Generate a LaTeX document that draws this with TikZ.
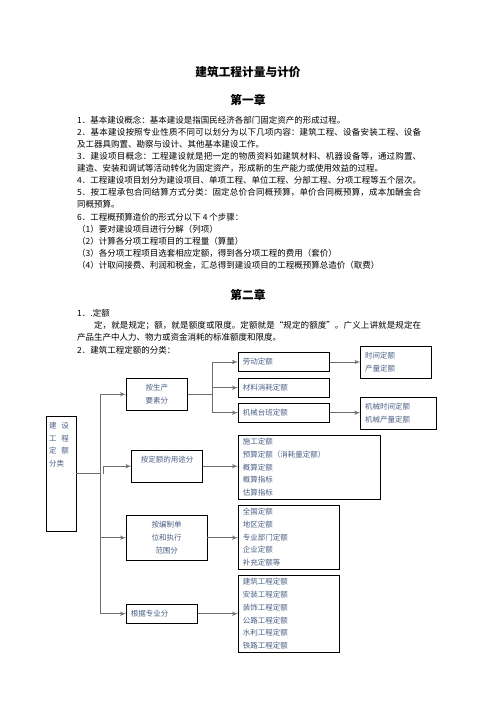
\documentclass[tikz,border=0pt]{standalone}
\usepackage{fontspec}
\setmainfont{Noto Sans CJK SC}
\XeTeXlinebreaklocale "zh"
\XeTeXlinebreakskip = 0pt plus 1pt minus 0.2pt
\usetikzlibrary{arrows}
\definecolor{lblue}{HTML}{4A5F85}
\definecolor{lgray}{HTML}{6E6E6E}
\newcommand{\bodyfont}{\fontsize{8.5}{12.1}\selectfont}
\newcommand{\boxfont}{\fontsize{7.5}{12.8}\selectfont}
\tikzstyle{para} = [anchor=north west, inner sep=0pt, text width=344pt,
    align=justify, font=\bodyfont]
\tikzstyle{heading} = [font=\fontsize{11.7}{14}\selectfont\bfseries, inner sep=0pt]
\tikzstyle{block} = [rectangle, draw, line width=0.7pt, inner sep=0pt,
    text=lblue, font=\boxfont, align=center]
\tikzstyle{list} = [block, align=left, inner xsep=4.5pt]
\tikzstyle{line} = [draw, lgray, line width=1pt, -latex']
\tikzstyle{stem} = [draw, lgray, line width=1pt]

\begin{document}
\begin{tikzpicture}[x=1pt, y=-1pt]
        \useasboundingbox[fill=white] (0,0) rectangle (496,702);
        % Page text
        \node [heading] (title) at (248,72) {建筑工程计量与计价};
        \node [heading] (ch1) at (248,100) {第一章};
        \node [para] (body1) at (77,115.8) {1．基本建设概念：基本建设是指国民经济各部门固定资产的形成过程。\par
            2．基本建设按照专业性质不同可以划分为以下几项内容：建筑工程、设备安装工程、设备\linebreak 及工器具购置、勘察与设计、其他基本建设工作。\par
            3．建设项目概念：工程建设就是把一定的物质资料如建筑材料、机器设备等，通过购置、\linebreak 建造、安装和调试等活动转化为固定资产，形成新的生产能力或使用效益的过程。\par
            4．工程建设项目划分为建设项目、单项工程、单位工程、分部工程、分项工程等五个层次。\par
            5．按工程承包合同结算方式分类：固定总价合同概预算，单价合同概预算，成本加酬金合\linebreak 同概预算。\par
            6．工程概预算造价的形式分以下 4 个步骤：\par
            （1）要对建设项目进行分解（列项）\par
            （2）计算各分项工程项目的工程量（算量）\par
            （3）各分项工程项目选套相应定额，得到各分项工程的费用（套价）\par
            （4）计取间接费、利润和税金，汇总得到建设项目的工程概预算总造价（取费）};
        \node [heading] (ch2) at (248,295) {第二章};
        \node [para] (body2) at (77,309.3) {1．.定额\par
            \hspace*{2em}定，就是规定；额，就是额度或限度。定额就是“规定的额度”。广义上讲就是规定在\linebreak 产品生产中人力、物力或资金消耗的标准额度和限度。\par
            2．建筑工程定额的分类：};
        % Place nodes
        \node [block, minimum width=30pt, minimum height=115pt] (root) at (61,473.5)
            {\parbox[c][103pt][t]{24pt}{建\hspace{5pt}设\\工\hspace{5pt}程\\定\hspace{5pt}额\\分类}};
        \node [block, minimum width=61pt, minimum height=32pt] (factor) at (156.8,394.3) {按生产\\要素分};
        \node [block, minimum width=70.6pt, minimum height=32.3pt] (usage) at (167,466.2) {按定额的用途分\\\phantom{按}};
        \node [block, minimum width=80.7pt, minimum height=44.7pt] (scope) at (166.7,537.7) {按编制单\\位和执行\\范围分};
        \node [list, text width=62pt, minimum height=18.7pt] (major) at (161.8,613.7) {根据专业分};
        \node [list, text width=82pt, minimum height=18.6pt] (labour) at (283.8,362) {劳动定额};
        \node [list, text width=82pt, minimum height=18.6pt] (material) at (283.8,387.7) {材料消耗定额};
        \node [list, text width=82pt, minimum height=18.6pt] (machine) at (283.8,412.7) {机械台班定额};
        \node [list, text width=61.6pt, minimum height=31.3pt] (time) at (396,362.35) {时间定额\\产量定额};
        \node [list, text width=66.3pt, minimum height=32pt] (machtime) at (398.3,413.3) {机械时间定额\\机械产量定额};
        \node [list, text width=133.4pt, minimum height=64pt] (stage) at (309.5,467.3)
            {施工定额\\预算定额（消耗量定额）\\概算定额\\概算指标\\估算指标};
        \node [list, text width=92pt, minimum height=64pt] (level) at (288.8,537.3)
            {全国定额\\地区定额\\专业部门定额\\企业定额\\补充定额等};
        \node [list, text width=92pt, minimum height=77pt] (trade) at (288.8,613.8)
            {建筑工程定额\\安装工程定额\\装饰工程定额\\公路工程定额\\水利工程定额\\铁路工程定额};
        \coordinate (trunk) at (100.7,473.5);
        \coordinate (jog) at (103.5,473.5);
        \coordinate (split) at (212.7,394.3);
        % Draw edges
        \path [stem] (root.east) -- (trunk);
        \path [line] (trunk) |- (factor.west);
        \path [line] (jog) |- (usage.west);
        \path [line] (trunk) |- (scope.west);
        \path [line] (trunk) |- (major.west);
        \path [stem] (factor.east) -- (split);
        \path [line] (split) |- (labour.west);
        \path [line] (split) |- (material.west);
        \path [line] (split) |- (machine.west);
        \path [line] (labour.east) -- (labour.east -| time.west);
        \path [line] (machine.east) -- (machine.east -| machtime.west);
        \path [line] (usage.east) -- (usage.east -| stage.west);
        \path [line] (scope.east) -- (scope.east -| level.west);
        \path [line] (major.east) -- (major.east -| trade.west);
    \end{tikzpicture}
\end{document}
